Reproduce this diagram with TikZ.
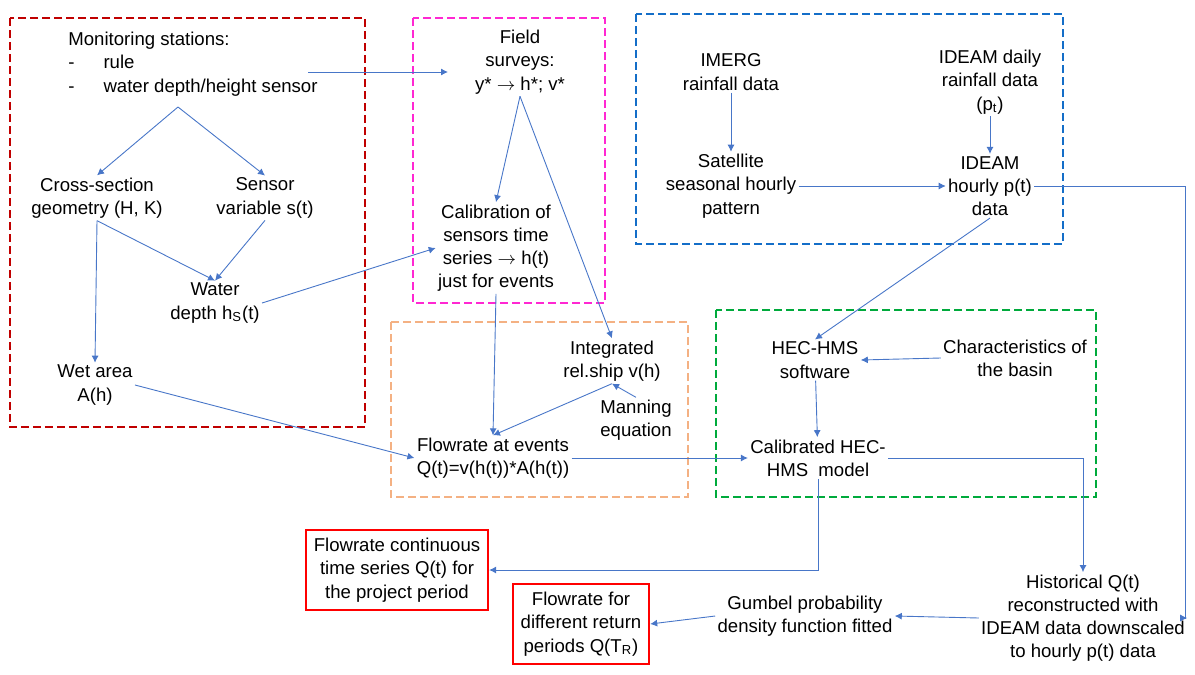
\documentclass[tikz,border=0pt]{standalone}
\usepackage{fontspec}
\setmainfont{Liberation Sans}
\usetikzlibrary{arrows.meta}
\definecolor{arrowblue}{RGB}{72,118,200}
\definecolor{boxred}{RGB}{192,0,0}
\definecolor{boxpink}{RGB}{255,40,210}
\definecolor{boxblue}{RGB}{20,110,200}
\definecolor{boxorange}{RGB}{244,177,131}
\definecolor{boxgreen}{RGB}{0,170,60}
\begin{document}
\begin{tikzpicture}[x=0.5pt,y=-0.5pt,
  every node/.style={align=center,font=\fontsize{9.3}{11.6}\selectfont,inner sep=1pt},
  flow/.style={-{Latex[length=3.5pt,width=3.5pt]},arrowblue,line width=0.45pt},
  group/.style={dashed,dash pattern=on 4pt off 2pt,line width=1.2pt},
  result/.style={draw=red,line width=0.9pt,inner sep=4pt}]
\useasboundingbox (0,0) rectangle (1195,675);
\draw[group,boxred] (10,18) rectangle (365,427);
\draw[group,boxpink] (413,18) rectangle (605,303);
\draw[group,boxblue] (636,14) rectangle (1063,244);
\draw[group,boxorange] (391,322) rectangle (688,497);
\draw[group,boxgreen] (716,310) rectangle (1096,497);

\node[align=left,anchor=west](mon) at (66,64) {Monitoring stations:\\-\quad\ \ rule\\-\quad\ \ water depth/height sensor};
\node(field) at (520,62) {Field\\surveys:\\y* $\rightarrow$ h*; v*};
\node(cross) at (97,198) {Cross-section\\geometry (H, K)};
\node(sensor) at (265,198) {Sensor\\variable s(t)};
\node(water) at (215,303) {Water\\depth h\textsubscript{S}(t)};
\node(calib) at (496,248) {Calibration of\\sensors time\\series $\rightarrow$ h(t)\\just for events};
\node(wet) at (95,385) {Wet area\\A(h)};
\node(integ) at (612,361) {Integrated\\rel.ship v(h)};
\node(manning) at (636,420) {Manning\\equation};
\node(events) at (493,458) {Flowrate at events\\Q(t)=v(h(t))*A(h(t))};
\node(imerg) at (731,72) {IMERG\\rainfall data};
\node(daily) at (990,82) {IDEAM daily\\rainfall data\\(p\textsubscript{t})};
\node(satellite) at (731,186) {Satellite\\seasonal hourly\\pattern};
\node(hourly) at (990,186) {IDEAM\\hourly p(t)\\data};
\node(hec) at (815,360) {HEC-HMS\\software};
\node(basin) at (1015,358) {Characteristics of\\the basin};
\node(model) at (818,458) {Calibrated HEC-\\HMS\ \ model};
\node[result](cont) at (397,570) {Flowrate continuous\\time series Q(t) for\\the project period};
\node[result](ret) at (581,624) {Flowrate for\\different return\\periods Q(T\textsubscript{R})};
\node(gumbel) at (805,616) {Gumbel probability\\density function fitted};
\node(hist) at (1083,618) {Historical Q(t)\\reconstructed with\\IDEAM data downscaled\\to hourly p(t) data};
\coordinate(split) at (178,107);
\coordinate(corner) at (1185,186);

\draw[flow] (split) -- (cross.north);
\draw[flow] (split) -- (sensor.north);
\draw[flow] (308,72) -- (448,72);
\draw[flow] (field.south) -- (calib.north);
\draw[flow] (field.south) -- (integ.north);
\draw[flow] (cross.south) -- (wet.north);
\draw[flow] (cross.south) -- (water.north);
\draw[flow] (sensor.south) -- (water.north);
\draw[flow] (water.east) -- (calib.west);
\draw[flow] (wet.east) -- (events.west);
\draw[flow] (calib.south) -- (events.north);
\draw[flow] (integ.south) -- (events.north);
\draw[flow] (manning.north) -- (integ.south);
\draw[flow] (events.east) -- (events.east-|model.west);
\draw[flow] (imerg) -- (satellite);
\draw[flow] (daily) -- (hourly);
\draw[flow] (satellite) -- (hourly);
\draw[flow] (hourly.south) -- (hec.north);
\draw[flow] (basin.west) -- (hec.east);
\draw[flow] (hec) -- (model);
\draw[flow] (model.east) -| (hist.north);
\draw[flow] (model.south) |- (cont.east);
\draw[flow] (hourly.east) -- (corner) |- (hist.east);
\draw[flow] (hist.west) -- (gumbel.east);
\draw[flow] (gumbel.west) -- (ret.east);
\end{tikzpicture}
\end{document}
